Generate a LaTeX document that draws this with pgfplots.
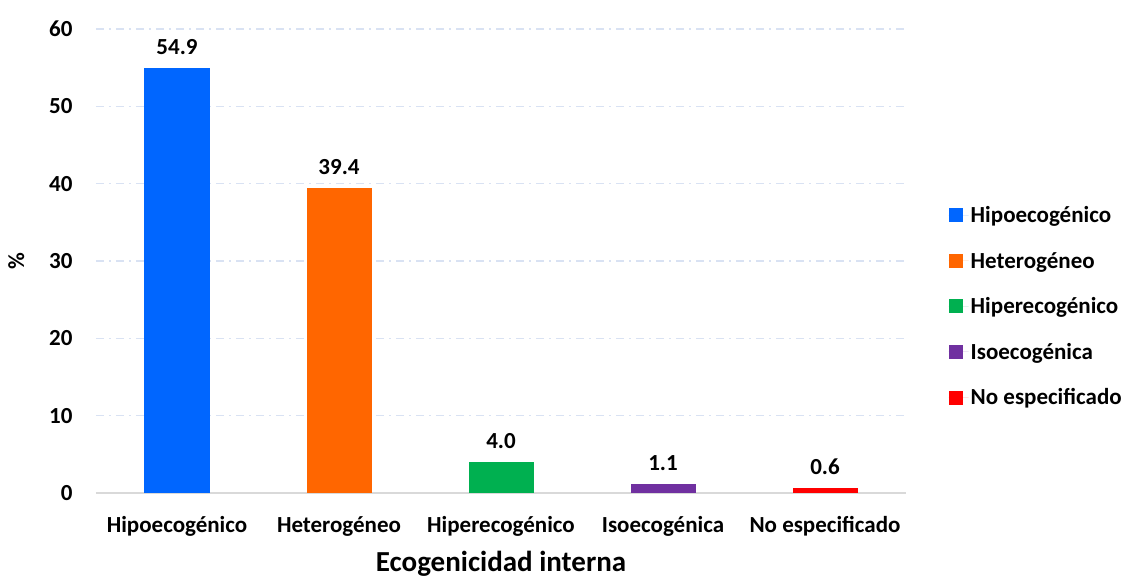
\documentclass[border=0pt]{standalone}
\usepackage{fontspec}
\setmainfont{Carlito}
\usepackage{pgfplots}
\pgfplotsset{compat=1.18}

\definecolor{cBlue}{RGB}{0,102,255}
\definecolor{cOrange}{RGB}{255,102,0}
\definecolor{cGreen}{RGB}{0,176,80}
\definecolor{cPurple}{RGB}{112,48,160}
\definecolor{cRed}{RGB}{255,0,0}
\definecolor{gridc}{RGB}{217,226,243}
\definecolor{axisc}{RGB}{217,217,217}

\newcommand{\tickfont}{\fontsize{23}{27}\selectfont\bfseries}

\begin{document}
\begin{tikzpicture}
\path[use as bounding box] (0,0) rectangle (1128pt,579pt);
\begin{axis}[
    at={(96pt,86pt)}, anchor=south west,
    scale only axis,
    width=810pt, height=464pt,
    ybar, bar shift=0pt, bar width=65pt,
    xmin=-0.5, xmax=4.5,
    ymin=0, ymax=60,
    ytick={0,10,...,60},
    xtick={0,1,2,3,4},
    xticklabels={Hipoecogénico,Heterogéneo,Hiperecogénico,Isoecogénica,No especificado},
    major tick length=0pt,
    axis x line*=bottom, axis y line*=left,
    y axis line style={draw=none},
    x axis line style={draw=axisc, line width=2pt},
    ymajorgrids,
    grid style={color=gridc, line width=1.2pt, dash pattern=on 8pt off 5pt on 2pt off 5pt},
    /pgf/number format/assume math mode=true,
    ticklabel style={font=\tickfont},
    xticklabel style={yshift=-20pt},
    yticklabel style={xshift=-20pt},
    xlabel={Ecogenicidad interna},
    ylabel={\%},
    xlabel style={font=\fontsize{29}{34}\selectfont\bfseries, yshift=-8pt},
    ylabel style={font=\tickfont, yshift=18pt},
    nodes near coords,
    nodes near coords style={font=\tickfont, anchor=south, yshift=10pt,
        /pgf/number format/.cd, fixed, fixed zerofill, precision=1, assume math mode=true},
    legend style={at={(1.0525,0.402)}, anchor=west, draw=none, fill=none,
        font=\tickfont, row sep=24pt, cells={anchor=west}, inner sep=0pt},
    legend image code/.code={\fill[#1, draw=none] (0pt,-7pt) rectangle (14pt,7pt);
        \path (0pt,0pt) -- (20pt,0pt);},
    legend cell align=left,
]
\addplot[fill=cBlue, draw=none] coordinates {(0,54.9)};
\addlegendentry{Hipoecogénico}
\addplot[fill=cOrange, draw=none] coordinates {(1,39.4)};
\addlegendentry{Heterogéneo}
\addplot[fill=cGreen, draw=none] coordinates {(2,4.0)};
\addlegendentry{Hiperecogénico}
\addplot[fill=cPurple, draw=none] coordinates {(3,1.1)};
\addlegendentry{Isoecogénica}
\addplot[fill=cRed, draw=none] coordinates {(4,0.6)};
\addlegendentry{No especificado}
\end{axis}
\end{tikzpicture}
\end{document}
